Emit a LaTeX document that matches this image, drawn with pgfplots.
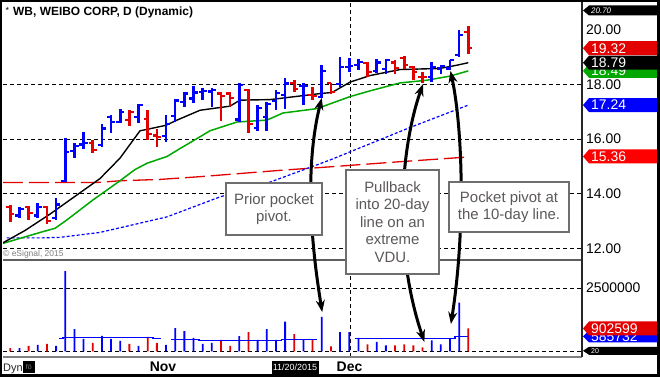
\documentclass[border=0pt]{standalone}
\usepackage{fontspec}
\setmainfont{Liberation Sans}
\usepackage{pgfplots}
\pgfplotsset{compat=1.18}
\usepackage{pgfplotstable}
\usetikzlibrary{arrows.meta}

\definecolor{barblue}{RGB}{0,0,255}
\definecolor{barred}{RGB}{226,0,0}
\definecolor{magreen}{RGB}{0,168,0}
\definecolor{boxgray}{RGB}{110,110,110}
\definecolor{txtgray}{RGB}{92,88,88}
\definecolor{sepgray}{RGB}{95,95,95}

% OHLC bars: index, open, high, low, close
\pgfplotstableread{
i o h l c
1 13.20 13.52 13.10 13.45
3 13.20 13.65 13.10 13.50
5 13.10 13.83 13.04 13.60
6 14.45 16.02 14.43 15.53
7 15.55 15.84 15.29 15.75
8 15.80 16.26 15.65 15.85
10 15.77 16.55 15.69 16.38
11 16.80 16.87 16.22 16.62
12 16.62 17.08 16.59 17.00
14 16.80 17.27 16.59 17.23
17 16.10 16.87 15.90 16.55
18 16.83 17.48 16.62 17.41
19 17.35 17.70 17.17 17.66
20 17.48 17.93 17.32 17.70
21 17.73 17.88 17.42 17.75
22 17.74 17.88 17.17 17.80
25 16.71 18.03 16.62 17.97
27 16.39 17.23 16.30 17.12
28 16.80 17.34 16.30 17.29
29 17.39 17.78 17.05 17.69
30 17.60 18.24 17.09 18.03
32 17.94 18.03 17.23 17.95
34 17.53 18.69 17.51 18.49
36 18.00 19.00 17.90 18.64
37 18.62 18.97 18.45 18.66
38 18.70 18.94 18.54 18.83
40 18.50 18.94 18.41 18.80
41 18.55 18.94 18.39 18.89
46 18.28 18.81 18.08 18.64
47 18.58 18.69 18.36 18.66
48 18.58 18.90 18.51 18.89
49 19.07 19.97 19.00 19.80
}\upbars

\pgfplotstableread{
i o h l c
0 13.52 13.58 12.96 13.25
2 13.50 13.55 13.04 13.30
4 13.50 13.55 12.88 13.00
9 15.85 15.96 15.47 15.60
13 16.70 17.05 16.49 16.99
15 16.74 17.05 15.98 16.17
16 16.13 16.38 15.69 16.08
23 17.66 17.71 16.66 17.57
24 17.66 17.72 17.17 17.51
26 17.79 17.81 16.22 16.56
31 18.06 18.15 17.72 17.82
33 17.61 17.90 17.42 17.58
35 18.06 18.06 17.64 17.73
39 18.78 18.81 18.27 18.46
42 18.80 18.88 18.36 18.59
43 18.95 19.02 18.57 18.70
44 18.62 18.66 18.15 18.45
45 18.28 18.45 18.03 18.26
50 19.90 20.13 19.10 19.32
}\downbars

\pgfplotstableread{
i v
1 130000
3 250000
5 210000
6 3170000
7 880000
8 490000
10 610000
11 490000
12 410000
14 210000
17 250000
18 920000
19 800000
20 530000
21 290000
22 330000
25 600000
27 450000
28 880000
29 450000
30 1170000
32 470000
34 1360000
36 760000
37 760000
38 530000
40 370000
41 230000
46 430000
47 270000
48 510000
49 1920000
}\volup

\pgfplotstableread{
i v
0 130000
2 210000
4 290000
9 330000
13 290000
15 570000
16 330000
23 450000
24 210000
26 760000
31 680000
33 470000
35 190000
39 270000
42 230000
43 270000
44 230000
45 160000
50 902599
}\voldown

\newcommand\flag[5]{%
  \fill[#2, shift={(PR |- #1)}] (1,0) -- (7,#4) -- (78,#4) -- (78,-#4) -- (7,-#4) -- cycle;
  \node[anchor=west, inner sep=0pt, text=white, font=#5, xshift=9bp] at (PR |- #1) {#3};
}

\pgfplotsset{
  barv/.style={draw=none, mark=none, forget plot, error bars/.cd, y dir=both, y explicit, error mark=none,
    error bar style={draw=#1, line width=2.6bp}},
  baro/.style={draw=none, mark=none, forget plot, error bars/.cd, x dir=minus, x fixed=0.45, error mark=none,
    error bar style={draw=#1, line width=2.2bp}},
  barc/.style={draw=none, mark=none, forget plot, error bars/.cd, x dir=plus, x fixed=0.45, error mark=none,
    error bar style={draw=#1, line width=2.2bp}},
}

\begin{document}
\begin{tikzpicture}
\useasboundingbox (0,0) rectangle (660bp,377bp);
\fill[white] (0,0) rectangle (660bp,377bp);

% ---------------- price panel ----------------
\begin{axis}[
  at={(3bp,118bp)}, anchor=south west, scale only axis,
  width=579bp, height=257bp,
  xmin=-0.797, xmax=62.41, ymin=11.608, ymax=21.011,
  axis line style={draw=none},
  xtick=\empty,
  extra x ticks={37.08}, extra x tick labels={}, extra x tick style={grid=major},
  ytick={12,14,16,18}, yticklabels={12.00,14.00,16.00,18.00},
  extra y ticks={20}, extra y tick labels={20.00}, extra y tick style={grid=none},
  ymajorgrids,
  grid style={black, line width=0.9bp, dash pattern=on 4bp off 3bp},
  yticklabel pos=right,
  major tick length=0pt,
  yticklabel style={font=\fontsize{14}{14}\selectfont, inner sep=0pt, anchor=west, xshift=4bp},
]
% moving averages
\addplot[barred, line width=1.3bp, dash pattern=on 20bp off 6bp] coordinates {
(-0.80,14.41) (9.58,14.41) (11.98,14.47) (16.34,14.52) (20.71,14.62) (29.77,14.86) (34.90,14.98) (42.22,15.16) (50.0,15.34)};
\addplot[barblue, line width=1.2bp, dash pattern=on 3bp off 2bp] coordinates {
(-0.39,12.38) (3.43,12.38) (5.43,12.40) (9.79,12.58) (17.11,13.15) (22.89,13.88) (28.02,14.38) (34.90,15.23) (43.64,16.42) (50.0,17.24)};
\addplot[magreen, line width=1.5bp] coordinates {
(-0.80,12.18) (3.46,12.60) (4.88,12.73) (6.19,13.04) (9.03,13.77) (11.98,14.47) (13.61,14.88) (14.92,15.11) (17.11,15.36) (18.53,15.65) (20.71,16.08) (21.80,16.30) (24.75,16.62) (28.02,16.69) (29.77,16.95) (33.48,17.11) (37.09,17.55) (39.27,17.76) (42.55,18.05) (45.49,18.15) (48.00,18.30) (50.0,18.49)};
\addplot[black, line width=1.4bp] coordinates {
(-0.80,12.20) (1.60,12.65) (4.33,13.25) (7.06,13.90) (9.79,14.55) (11.98,15.30) (14.16,16.30) (14.92,16.35) (16.99,16.50) (18.20,16.69) (20.71,17.05) (23.98,17.20) (25.08,17.42) (28.35,17.44) (33.81,17.66) (35.12,17.70) (37.09,18.08) (39.27,18.32) (42.55,18.54) (46.91,18.58) (48.77,18.70) (50.0,18.79)};
% OHLC bars: up = blue, down = red
\addplot[barv=barblue] table[x=i, y expr={(\thisrow{h}+\thisrow{l})/2}, y error expr={(\thisrow{h}-\thisrow{l})/2}] {\upbars};
\addplot[baro=barblue] table[x=i, y=o] {\upbars};
\addplot[barc=barblue] table[x=i, y=c] {\upbars};
\addplot[barv=barred] table[x=i, y expr={(\thisrow{h}+\thisrow{l})/2}, y error expr={(\thisrow{h}-\thisrow{l})/2}] {\downbars};
\addplot[baro=barred] table[x=i, y=o] {\downbars};
\addplot[barc=barred] table[x=i, y=c] {\downbars};
\coordinate (PR) at (rel axis cs:1,0);
\coordinate (p2070) at (axis cs:0,20.70);
\coordinate (p1932) at (axis cs:0,19.32);
\coordinate (p1879) at (axis cs:0,18.79);
\coordinate (p1849) at (axis cs:0,18.49);
\coordinate (p1724) at (axis cs:0,17.24);
\coordinate (p1536) at (axis cs:0,15.36);
\coordinate (A1t) at (axis cs:34,17.50);
\coordinate (A2t) at (axis cs:45.05,18.01);
\coordinate (A3t) at (axis cs:48.05,18.49);
\end{axis}

% ---------------- volume panel ----------------
\begin{axis}[
  at={(3bp,20bp)}, anchor=south west, scale only axis,
  width=579bp, height=98bp,
  xmin=-0.797, xmax=62.41, ymin=-225300, ymax=3648200,
  axis line style={draw=none},
  xtick={16.67,37.03}, xticklabels={Nov,Dec},
  xticklabel style={font=\bfseries\fontsize{14}{14}\selectfont, inner sep=0pt, anchor=north, yshift=-5.2bp},
  extra x ticks={37.08}, extra x tick labels={}, extra x tick style={grid=major},
  ytick={0,2500000}, yticklabels={{},2500000},
  scaled y ticks=false,
  ymajorgrids,
  grid style={black, line width=0.9bp, dash pattern=on 4bp off 3bp},
  yticklabel pos=right,
  major tick length=0pt,
  yticklabel style={font=\fontsize{14}{14}\selectfont, inner sep=0pt, anchor=west, xshift=4bp},
]
\addplot[ybar, bar width=1.8bp, bar shift=0pt, fill=barblue, draw=none] table[x=i, y=v] {\volup};
\addplot[ybar, bar width=1.8bp, bar shift=0pt, fill=barred, draw=none] table[x=i, y=v] {\voldown};
\addplot[barblue, line width=1.5bp] coordinates {(5.32,510000) (5.75,510000) (5.75,550000) (15.58,550000) (15.58,510000) (16.45,510000)};
\addplot[barblue, line width=1.5bp] coordinates {(17.54,470000) (20.6,470000) (20.6,430000) (29.6,430000) (29.6,470000) (33.48,470000)};
\addplot[barblue, line width=1.5bp] coordinates {(37.63,510000) (48.55,510000) (48.55,585732) (50.0,585732)};
\coordinate (v902) at (axis cs:0,902599);
\coordinate (v585) at (axis cs:0,585732);
\coordinate (v20) at (axis cs:0,20000);
\coordinate (A1b) at (axis cs:34.05,1550000);
\coordinate (A2b) at (axis cs:45.2,370000);
\coordinate (A3b) at (axis cs:48.1,1080000);
\end{axis}

\begin{scope}[x=1bp,y=1bp]
% panel separators
\draw[sepgray, line width=1.8bp] (3,117) -- (582,117);
\draw[gray, line width=1.2bp] (3,20) -- (582,20);
\draw[black!85, line width=1.2bp] (582,20) -- (582,377);

% value flags
\flag{p2070}{black}{\textit{20.70}}{5}{\fontsize{8}{8}\selectfont}
\flag{p1849}{magreen}{18.49}{7}{\fontsize{14}{14}\selectfont}
\flag{p1879}{black}{18.79}{7}{\fontsize{14}{14}\selectfont}
\flag{p1932}{barred}{19.32}{7}{\fontsize{14}{14}\selectfont}
\flag{p1724}{barblue}{17.24}{7}{\fontsize{14}{14}\selectfont}
\flag{p1536}{red}{15.36}{7}{\fontsize{14}{14}\selectfont}
\flag{v585}{barblue}{585732}{6}{\fontsize{14}{14}\selectfont}
\flag{v902}{barred}{902599}{7}{\fontsize{14}{14}\selectfont}
\flag{v20}{black}{20}{4}{\fontsize{7}{7}\selectfont}

% arrows
\draw[line width=3bp, {Stealth[length=12bp,width=9bp]}-{Stealth[length=12bp,width=9bp]}]
  (A1b) .. controls +(-14,86) and +(-15,-60) .. (A1t);
\draw[line width=3bp, {Stealth[length=12bp,width=9bp]}-{Stealth[length=12bp,width=9bp]}]
  (A2b) .. controls +(-32,95) and +(-22,-63) .. (A2t);
\draw[line width=3bp, {Stealth[length=12bp,width=9bp]}-{Stealth[length=12bp,width=9bp]}]
  (A3b) .. controls +(15,96) and +(12,-56) .. (A3t);

% annotation boxes
\tikzset{annbox/.style={draw=boxgray, line width=2.2bp, fill=white, text=txtgray,
  font=\fontsize{15}{17.5}\selectfont, align=center, inner sep=0pt}}
\node[annbox, minimum width=96bp, minimum height=52bp] at (274,168) {Prior pocket\\pivot.};
\node[annbox, minimum width=93bp, minimum height=104bp] at (392.5,155) {Pullback\\into 20-day\\line on an\\extreme\\VDU.};
\node[annbox, minimum width=120bp, minimum height=50bp] at (509,170) {Pocket pivot at\\the 10-day line.};

% texts
\node[anchor=base west, inner sep=0pt, font=\fontsize{9}{9}\selectfont] at (5.5,364) {*};
\node[anchor=base west, inner sep=0pt, font=\bfseries\fontsize{12}{12}\selectfont] at (13,362) {WB, WEIBO CORP, D (Dynamic)};
\node[anchor=base west, inner sep=0pt, text=gray, font=\fontsize{8.5}{8.5}\selectfont] at (3,121) {© eSignal, 2015};
\node[anchor=base west, inner sep=0pt, text=black!85, font=\fontsize{11}{11}\selectfont] at (3,6) {Dyn};
\fill[black] (22.7,3.7) rectangle (35,16);
\node[inner sep=0pt, text=gray, font=\fontsize{7}{7}\selectfont] at (28.9,9.8) {fö};
\node[fill=black, text=white, inner sep=0pt, minimum width=47bp, minimum height=13bp,
  font=\fontsize{9}{9}\selectfont] at (295,9.5) {11/20/2015};

% outer frame
\fill[black] (0,0) rectangle (660,2.8);
\fill[black] (0,375) rectangle (660,377);
\fill[black] (0,0) rectangle (2.5,377);
\fill[black] (657,0) rectangle (660,377);
\end{scope}
\end{tikzpicture}
\end{document}
